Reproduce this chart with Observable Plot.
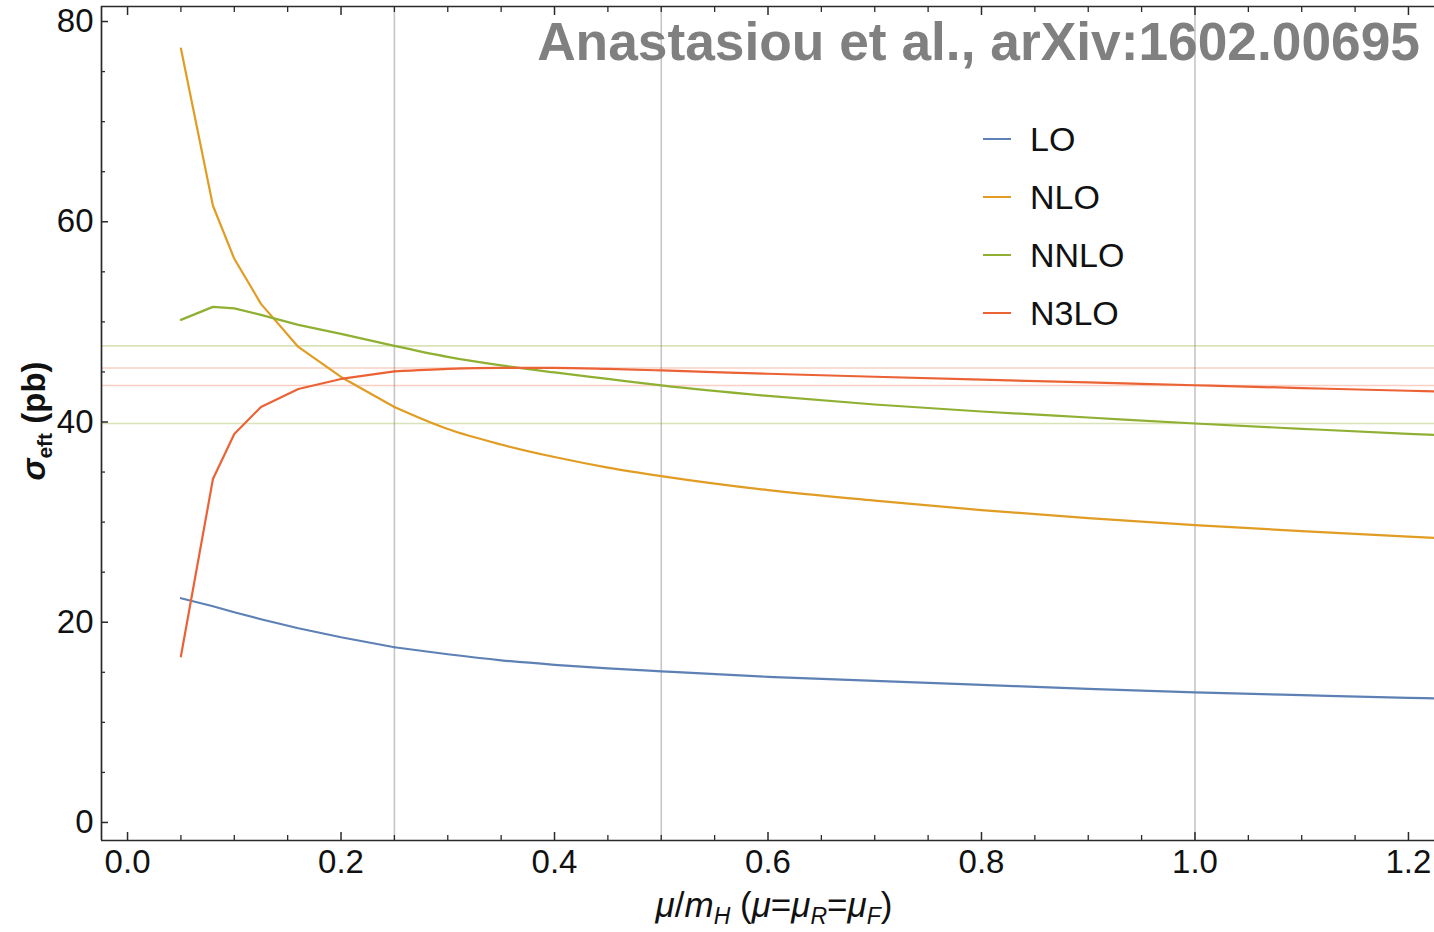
<!DOCTYPE html>
<html>
<head>
<meta charset="utf-8">
<script src="https://cdn.jsdelivr.net/npm/d3@7"></script>
<script src="https://cdn.jsdelivr.net/npm/@observablehq/plot@0.6"></script>
<style>
  body { margin: 0; background: #fff; }
  #wrap { position: relative; width: 1434px; height: 932px; font-family: "Liberation Sans", Arial, sans-serif; }
  #legend { position: absolute; left: 983px; top: 110px; }
  .lrow { display: flex; align-items: center; height: 58px; }
  .lrow svg { width: 30px; height: 4px; margin-right: 17px; }
  .lrow span { font-size: 34px; color: #111; }
</style>
</head>
<body>
<div id="wrap"></div>
<script>
// ---- data ----
const muRatio   = [0.05, 0.08, 0.1, 0.125, 0.16, 0.2, 0.25, 0.3, 0.35, 0.4, 0.45, 0.5, 0.6, 0.7, 0.8, 0.9, 1.0, 1.1, 1.2, 1.25];
const sigmaLO   = [22.4, 21.6, 21.0, 20.3, 19.4, 18.5, 17.5, 16.8, 16.2, 15.75, 15.4, 15.1, 14.55, 14.15, 13.75, 13.35, 13.0, 12.72, 12.45, 12.33];
const sigmaNLO  = [77.3, 61.6, 56.3, 51.8, 47.5, 44.5, 41.5, 39.3, 37.75, 36.5, 35.45, 34.6, 33.2, 32.15, 31.2, 30.4, 29.7, 29.1, 28.55, 28.3];
const sigmaNNLO = [50.2, 51.5, 51.35, 50.7, 49.7, 48.8, 47.6, 46.5, 45.65, 44.95, 44.3, 43.65, 42.6, 41.75, 41.05, 40.45, 39.85, 39.32, 38.82, 38.6];
const sigmaN3LO = [16.6, 34.3, 38.8, 41.5, 43.3, 44.3, 45.05, 45.3, 45.4, 45.4, 45.3, 45.15, 44.82, 44.52, 44.23, 43.95, 43.67, 43.39, 43.12, 43.0];

const orders      = ["LO", "NLO", "NNLO", "N3LO"];
const orderColors = ["#5E81B5", "#E19C24", "#8FB032", "#EB6235"];

const scaleGridX = [0.25, 0.5, 1.0];
const nnloBand   = [47.6, 39.85];
const n3loBand   = [45.4, 43.65];

const xMajorTicks = [0, 0.2, 0.4, 0.6, 0.8, 1.0, 1.2];
const xMinorTicks = [0.05, 0.1, 0.15, 0.25, 0.3, 0.35, 0.45, 0.5, 0.55, 0.65, 0.7, 0.75, 0.85, 0.9, 0.95, 1.05, 1.1, 1.15];
const yMajorTicks = [0, 20, 40, 60, 80];
const yMinorTicks = [5, 10, 15, 25, 30, 35, 45, 50, 55, 65, 70, 75];
const xTickLabels = ["0.0", "0.2", "0.4", "0.6", "0.8", "1.0", "1.2"];
const yTickLabels = ["0", "20", "40", "60", "80"];

const xDomain = [-0.0244, 1.2244];
const yDomain = [-1.8, 81.5];

const titleText = "Anastasiou et al., arXiv:1602.00695";

// ---- build table (coarse sampled part drawn straight, fine part smooth) ----
const seriesValues = [sigmaLO, sigmaNLO, sigmaNNLO, sigmaN3LO];
const rows = [];
orders.forEach((o, k) => muRatio.forEach((x, i) => rows.push({x, y: seriesValues[k][i], order: o})));
const rowsLow  = rows.filter(d => d.x <= 0.25);
const rowsHigh = rows.filter(d => d.x >= 0.25);

const frameColor = "#2a2a2a";
const xFmt = d => xTickLabels[xMajorTicks.indexOf(d)];
const yFmt = d => yTickLabels[yMajorTicks.indexOf(d)];

const chart = Plot.plot({
  width: 1434,
  height: 932,
  marginLeft: 101,
  marginRight: 0,
  marginTop: 6,
  marginBottom: 92,
  x: {domain: xDomain},
  y: {domain: yDomain},
  color: {domain: orders, range: orderColors},
  style: {fontFamily: '"Liberation Sans", Arial, sans-serif', fontSize: "33px", color: "#111", background: "white", overflow: "visible"},
  marks: [
    Plot.ruleX(scaleGridX, {stroke: "#c6c6c6", strokeWidth: 1.6}),
    Plot.ruleY(nnloBand, {stroke: orderColors[2], strokeOpacity: 0.35, strokeWidth: 1.6}),
    Plot.ruleY(n3loBand, {stroke: orderColors[3], strokeOpacity: 0.3, strokeWidth: 1.6}),
    Plot.line(rowsLow, {x: "x", y: "y", stroke: "order", strokeWidth: 2.2, strokeLinejoin: "round", clip: true}),
    Plot.line(rowsHigh, {x: "x", y: "y", stroke: "order", strokeWidth: 2.2, curve: "monotone-x", clip: true}),
    // frame
    Plot.ruleY([yDomain[0], yDomain[1]], {stroke: frameColor, strokeWidth: 1.7}),
    Plot.ruleX([xDomain[0]], {stroke: frameColor, strokeWidth: 1.7}),
    // inward ticks
    Plot.axisX(xMajorTicks, {anchor: "bottom", tickSize: -8, fill: null, label: null, stroke: frameColor, strokeWidth: 1.5}),
    Plot.axisX(xMinorTicks, {anchor: "bottom", tickSize: -5, fill: null, label: null, stroke: frameColor, strokeWidth: 1.3}),
    Plot.axisX(xMajorTicks, {anchor: "top", tickSize: -8, fill: null, label: null, stroke: frameColor, strokeWidth: 1.5}),
    Plot.axisX(xMinorTicks, {anchor: "top", tickSize: -5, fill: null, label: null, stroke: frameColor, strokeWidth: 1.3}),
    Plot.axisY(yMajorTicks, {anchor: "left", tickSize: -7, fill: null, label: null, stroke: frameColor, strokeWidth: 1.5}),
    Plot.axisY(yMinorTicks, {anchor: "left", tickSize: -4, fill: null, label: null, stroke: frameColor, strokeWidth: 1.3}),
    // tick labels
    Plot.axisX(xMajorTicks, {anchor: "bottom", tickSize: 0, tickPadding: 9, tickFormat: xFmt, label: null, fill: "#111"}),
    Plot.axisY(yMajorTicks, {anchor: "left", tickSize: 0, tickPadding: 8, tickFormat: yFmt, label: null, fill: "#111"})
  ]
});

document.getElementById("wrap").appendChild(chart);

// ---- titles and axis labels as real SVG text ----
const svg = d3.select(chart);
const ff = '"Liberation Sans", Arial, sans-serif';

svg.append("text")
  .attr("x", 1420).attr("y", 60)
  .attr("text-anchor", "end")
  .attr("font-family", ff).attr("font-size", 53.3).attr("font-weight", "bold")
  .attr("fill", "#808080")
  .text(titleText);

// y label: σ_eft (pb)
const yl = svg.append("text")
  .attr("transform", "translate(45,421) rotate(-90)")
  .attr("text-anchor", "middle")
  .attr("font-family", ff).attr("font-size", 33).attr("font-weight", "bold")
  .attr("fill", "#111");
yl.append("tspan").attr("font-style", "italic").text("σ");
yl.append("tspan").attr("font-size", 21).attr("dy", 7).text("eft");
yl.append("tspan").attr("dy", -7).text(" (pb)");

// x label: μ/m_H (μ=μ_R=μ_F)
const xl = svg.append("text")
  .attr("x", 774).attr("y", 917)
  .attr("text-anchor", "middle")
  .attr("font-family", ff).attr("font-size", 35)
  .attr("fill", "#111");
xl.append("tspan").attr("font-style", "italic").text("μ");
xl.append("tspan").text("/");
xl.append("tspan").attr("font-style", "italic").text("m");
xl.append("tspan").attr("font-style", "italic").attr("font-size", 23).attr("dy", 7).text("H");
xl.append("tspan").attr("dy", -7).text(" (");
xl.append("tspan").attr("font-style", "italic").text("μ");
xl.append("tspan").text("=");
xl.append("tspan").attr("font-style", "italic").text("μ");
xl.append("tspan").attr("font-style", "italic").attr("font-size", 23).attr("dy", 7).text("R");
xl.append("tspan").attr("dy", -7).text("=");
xl.append("tspan").attr("font-style", "italic").text("μ");
xl.append("tspan").attr("font-style", "italic").attr("font-size", 23).attr("dy", 7).text("F");
xl.append("tspan").attr("dy", -7).text(")");

// ---- legend ----
const legend = d3.select("#wrap").append("div").attr("id", "legend");
orders.forEach((o, k) => {
  const row = legend.append("div").attr("class", "lrow");
  const s = row.append("svg").attr("viewBox", "0 0 30 4");
  s.append("line").attr("x1", 0).attr("x2", 28).attr("y1", 2).attr("y2", 2)
    .attr("stroke", orderColors[k]).attr("stroke-width", 2);
  row.append("span").text(o);
});
</script>
</body>
</html>
